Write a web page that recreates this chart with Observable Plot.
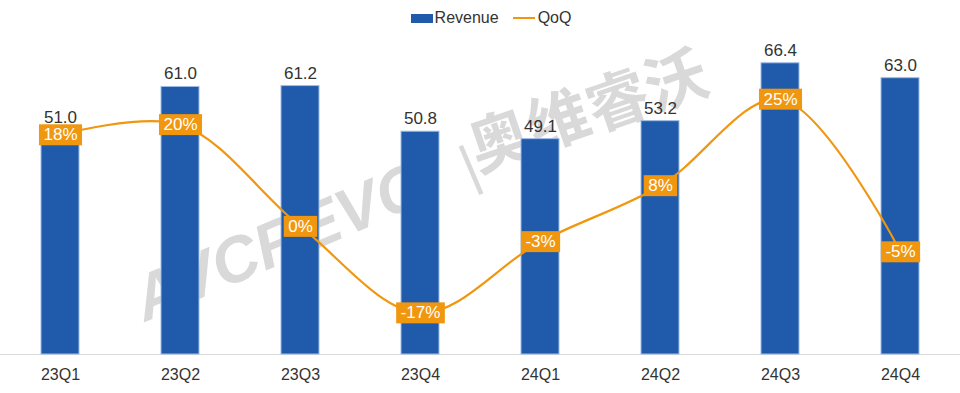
<!DOCTYPE html>
<html><head><meta charset="utf-8">
<script src="https://cdn.jsdelivr.net/npm/d3@7"></script>
<script src="https://cdn.jsdelivr.net/npm/@observablehq/plot@0.6"></script>
<style>
body{margin:0;background:#fff;font-family:"Liberation Sans",Arial,sans-serif;}
#wrap{position:relative;width:960px;height:393px;overflow:hidden;}
#legend{position:relative;z-index:2;height:30px;padding-top:6px;box-sizing:border-box;display:flex;justify-content:center;align-items:center;font-size:16px;color:#333;padding-left:22px;}
#legend span.sw{display:inline-block;width:22px;height:9px;background:#1f5aab;margin-right:2px;}
#legend span.ln{display:inline-block;width:22px;height:2px;background:#f0960f;margin:0 3px 0 14px;}
#wm{position:absolute;left:0;top:0;z-index:0;}
#chart{position:relative;z-index:1;}
</style></head>
<body><div id="wrap">
<svg id="wm" width="960" height="393"><g fill="#d9d9d9" font-family="Liberation Sans, Arial, sans-serif" font-weight="bold">
<text x="145" y="322" font-size="64" font-style="italic" transform="rotate(-23 145 322)">AVCREVO</text>
<text x="470" y="186" font-size="56" font-weight="normal" transform="rotate(-23 470 186)">|</text>
<text x="478" y="172" font-size="62" font-family="Noto Sans CJK SC" transform="rotate(-19 478 172)">奥维睿沃</text>
</g></svg>
<div id="legend"><span class="sw"></span>Revenue<span class="ln"></span>QoQ</div>
<div id="chart"></div>
</div>
<script>
const quarters = ["23Q1","23Q2","23Q3","23Q4","24Q1","24Q2","24Q3","24Q4"];
const revenue = [51.0, 61.0, 61.2, 50.8, 49.1, 53.2, 66.4, 63.0];
const qoq = [18, 20, 0, -17, -3, 8, 25, -5];

const data = quarters.map((q,i)=>({q, rev:revenue[i], qoq:qoq[i]}));
// secondary axis mapping for QoQ (%) onto revenue scale
const q2y = v => 29.2 + 1.16*v;

const chart = Plot.plot({
  width:960, height:363,
  marginTop:17, marginBottom:39, marginLeft:0, marginRight:0,
  style:{fontFamily:"Liberation Sans, Arial, sans-serif", background:"transparent", fontSize:"16px", color:"#333"},
  x:{domain:quarters, paddingInner:0.68, paddingOuter:0.34, label:null, tickSize:0, tickPadding:14},
  y:{domain:[0,70], axis:null},
  marks:[
    Plot.ruleY([0],{stroke:"#d9d9d9", strokeWidth:1}),
    Plot.barY(data,{x:"q", y:"rev", fill:"#1f5aab", stroke:"#9dbbe6", strokeWidth:1}),
    Plot.text(data,{x:"q", y:"rev", text:d=>d.rev.toFixed(1), dy:-13, fontSize:17, fill:"#333"}),
    Plot.line(data,{x:"q", y:d=>q2y(d.qoq), stroke:"#f0960f", strokeWidth:2.2, curve:"catmull-rom"}),
    Plot.text(data,{x:"q", y:d=>q2y(d.qoq), text:d=>d.qoq+"%", fontSize:17, fill:"#fff", className:"qlab"})
  ]
});
document.getElementById("chart").appendChild(chart);
// boxes behind QoQ labels
const g = chart.querySelector("g.qlab");
if (g){
  g.querySelectorAll("text").forEach(t=>{
    const b = t.getBBox();
    const r = document.createElementNS("http://www.w3.org/2000/svg","rect");
    r.setAttribute("x", b.x-4.5); r.setAttribute("y", b.y+b.height/2-10.5);
    r.setAttribute("width", b.width+9); r.setAttribute("height", 21);
    r.setAttribute("fill","#f0960f");
    const tr = t.getAttribute("transform"); if (tr) r.setAttribute("transform", tr);
    g.insertBefore(r, t);
  });
}
</script>
</body></html>
